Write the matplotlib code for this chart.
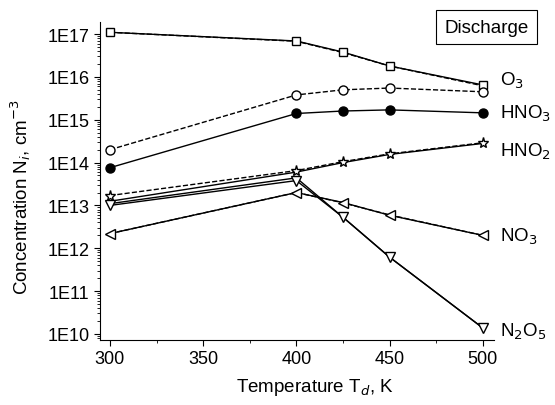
import math
import matplotlib.pyplot as plt
from matplotlib.ticker import FixedLocator, LogLocator, NullFormatter, FuncFormatter

plt.rcParams['font.family'] = ['Liberation Sans', 'DejaVu Sans']

T = [300, 400, 425, 450, 500]

# solid curves (with markers) and dashed curves
o3_solid = [1.1e17, 6.9e16, 3.8e16, 1.8e16, 6.5e15]
o3_dash = [1.1e17, 6.8e16, 3.7e16, 1.8e16, 6.2e15]
hno3_solid = [7.6e13, 1.4e15, 1.6e15, 1.7e15, 1.45e15]
hno3_dash = [2.0e14, 3.8e15, 5.0e15, 5.5e15, 4.5e15]
hno2_dash = [1.7e13, 6.5e13, 1.05e14, 1.6e14, 2.9e14]
hno2_solid = [1.25e13, 6.0e13, 1.0e14, 1.55e14, 2.8e14]
no3_solid = [2.2e12, 2.0e13, 1.17e13, 5.9e12, 2.0e12]
no3_dash = [2.2e12, 2.0e13, 1.15e13, 6.0e12, 2.0e12]
n2o5_solid = [1.0e13, 3.8e13, 5.3e12, 6.2e11, 1.38e10]
n2o5_b = [1.1e13, 4.4e13, 5.3e12, 6.2e11, 1.38e10]

labels = ['O$_3$', 'HNO$_3$', 'HNO$_2$', 'NO$_3$', 'N$_2$O$_5$']
label_y = [8.5e15, 1.45e15, 1.9e14, 1.9e12, 1.2e10]
yticks = [1e10, 1e11, 1e12, 1e13, 1e14, 1e15, 1e16, 1e17]

fig = plt.figure(figsize=(5.55, 4.06), dpi=100)
ax = fig.add_axes([0.18, 0.16, 0.71, 0.783])

k = dict(color='black', lw=1)
ax.plot(T, o3_dash, ls='--', **k)
ax.plot(T, o3_solid, marker='s', mfc='white', ms=6, **k)
ax.plot(T, hno3_dash, ls='--', marker='o', mfc='white', ms=6.5, **k)
ax.plot(T, hno3_solid, marker='o', mfc='black', ms=6.5, **k)
ax.plot(T, hno2_solid, **k)
ax.plot(T, hno2_dash, ls='--', marker='*', mfc='white', ms=8, **k)
ax.plot(T, no3_dash, ls='--', **k)
ax.plot(T, no3_solid, marker='<', mfc='white', ms=7, **k)
ax.plot(T, n2o5_b, **k)
ax.plot(T, n2o5_solid, marker='v', mfc='white', ms=7, **k)

ax.set_yscale('log')
ax.set_xlim(294.6, 506)
ax.set_ylim(7.2e9, 1.9e17)
ax.set_xticks([300, 350, 400, 450, 500])
ax.xaxis.set_minor_locator(FixedLocator([325, 375, 425, 475]))
ax.yaxis.set_major_locator(FixedLocator(yticks))
ax.yaxis.set_minor_locator(LogLocator(base=10, subs=range(2, 10), numticks=20))
ax.yaxis.set_minor_formatter(NullFormatter())
ax.yaxis.set_major_formatter(FuncFormatter(lambda v, p: '1E%d' % round(math.log10(v))))

for s in ['top', 'right']:
    ax.spines[s].set_visible(False)
ax.tick_params(which='both', direction='out', labelsize=13)
ax.tick_params(which='major', length=4)
ax.tick_params(which='minor', length=2.5)

for lab, y in zip(labels, label_y):
    ax.text(509, y, lab, fontsize=13.5, va='center', ha='left', clip_on=False)

fig.text(0.876, 0.931, 'Discharge', fontsize=13.5, ha='center', va='center',
         bbox=dict(boxstyle='square,pad=0.45', fc='white', ec='black', lw=0.8))

ax.set_xlabel('Temperature T$_d$, K', fontsize=13.5)
ax.set_ylabel('Concentration N$_i$, cm$^{-3}$', fontsize=13.5)
ax.xaxis.set_label_coords(0.546, -0.112)
ax.yaxis.set_label_coords(-0.17, 0.453)

fig.savefig('out.png', dpi=100)
